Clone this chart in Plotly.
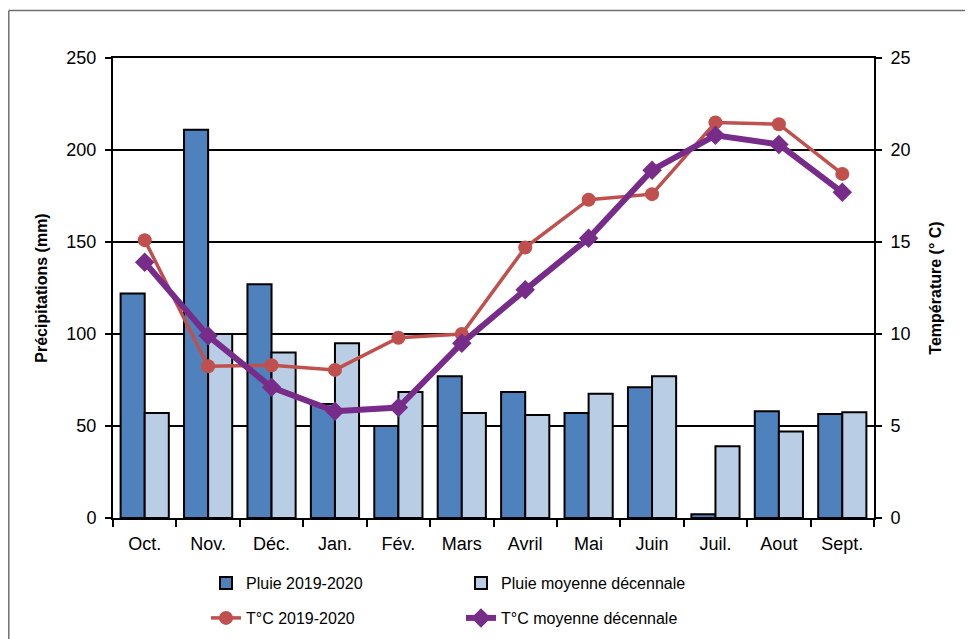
import plotly.graph_objects as go

months = ["Oct.", "Nov.", "Déc.", "Jan.", "Fév.", "Mars", "Avril", "Mai", "Juin", "Juil.", "Aout", "Sept."]
pluie_2019_2020 = [122, 211, 127, 62, 50, 77, 68.5, 57, 71, 2, 58, 56.5]
pluie_moy = [57, 100, 90, 95, 68.5, 57, 56, 67.5, 77, 39, 47, 57.5]
temp_2019_2020 = [15.1, 8.25, 8.3, 8.05, 9.8, 10.0, 14.7, 17.3, 17.6, 21.5, 21.4, 18.7]
temp_moy = [13.9, 9.9, 7.1, 5.8, 6.0, 9.5, 12.4, 15.2, 18.9, 20.8, 20.3, 17.7]

font = "Liberation Sans, Arial, sans-serif"

# page body has an 8px margin: figure origin is at (8, 8)
OFF = 8
L, R, T, B = 113, 874, 58, 518  # target plot area in window pixels

fig = go.Figure()
fig.add_trace(go.Bar(x=months, y=pluie_2019_2020, name="Pluie 2019-2020",
                     marker=dict(color="#4F81BD", line=dict(color="black", width=2)),
                     legend="legend"))
fig.add_trace(go.Bar(x=months, y=pluie_moy, name="Pluie moyenne décennale",
                     marker=dict(color="#B9CDE5", line=dict(color="black", width=2)),
                     legend="legend"))
fig.add_trace(go.Scatter(x=months, y=temp_2019_2020, name="T°C 2019-2020", yaxis="y2",
                         mode="lines+markers",
                         line=dict(color="#C0504D", width=3.5),
                         marker=dict(symbol="circle", size=14, color="#C0504D"),
                         legend="legend2"))
fig.add_trace(go.Scatter(x=months, y=temp_moy, name="T°C moyenne décennale", yaxis="y2",
                         mode="lines+markers",
                         line=dict(color="#772C8A", width=6),
                         marker=dict(symbol="diamond", size=15, color="#772C8A"),
                         legend="legend2"))

pw = R - L
ph = B - T
def px_x(x):
    return (x - L) / pw
def px_y(y):
    return (B - y) / ph

# outer frame (gray lines at left and top)
fig.add_shape(type="line", xref="paper", yref="paper", x0=px_x(8.8), x1=1.2, y0=px_y(10.5), y1=px_y(10.5),
              line=dict(color="#707070", width=1.5))
fig.add_shape(type="line", xref="paper", yref="paper", x0=px_x(8.8), x1=px_x(8.8), y0=px_y(10.5), y1=-0.5,
              line=dict(color="#707070", width=1.5))

fig.update_layout(
    width=973 - OFF, height=639 - OFF,
    margin=dict(l=L - OFF, r=973 - R, t=T - OFF, b=639 - B, autoexpand=False),
    paper_bgcolor="white", plot_bgcolor="white",
    font=dict(family=font, size=16, color="black"),
    barmode="group", bargap=0.24, bargroupgap=0.0,
    xaxis=dict(type="category", range=[-0.5, len(months) - 0.5],
               showline=True, mirror=True, linecolor="black", linewidth=2,
               ticks="outside", tickson="boundaries", ticklen=7, tickwidth=2, tickcolor="black",
               showgrid=False, tickfont=dict(size=18), ticklabelstandoff=8, automargin=False),
    yaxis=dict(range=[0, 250], dtick=50, showline=True, linecolor="black", linewidth=2,
               ticks="outside", ticklen=6, tickwidth=2, tickcolor="black",
               showgrid=True, gridcolor="black", gridwidth=2, zeroline=False,
               tickfont=dict(size=18), ticklabelstandoff=5, automargin=False,
               title=dict(text="<b>Précipitations (mm)</b>", font=dict(size=16), standoff=15)),
    yaxis2=dict(range=[0, 25], dtick=5, overlaying="y", side="right",
                showline=True, linecolor="black", linewidth=2,
                ticks="outside", ticklen=6, tickwidth=2, tickcolor="black",
                showgrid=False, zeroline=False, tickfont=dict(size=18), ticklabelstandoff=5,
                automargin=False,
                title=dict(text="<b>Température (° C)</b>", font=dict(size=16), standoff=20)),
    legend=dict(orientation="h", x=px_x(206), xanchor="left",
                y=px_y(583), yanchor="middle", entrywidth=210, entrywidthmode="pixels",
                font=dict(size=16), bgcolor="rgba(0,0,0,0)", traceorder="normal"),
    legend2=dict(orientation="h", x=px_x(206), xanchor="left",
                 y=px_y(618), yanchor="middle", entrywidth=210, entrywidthmode="pixels",
                 font=dict(size=16), bgcolor="rgba(0,0,0,0)", traceorder="normal"),
)

fig.write_html("out.html")
